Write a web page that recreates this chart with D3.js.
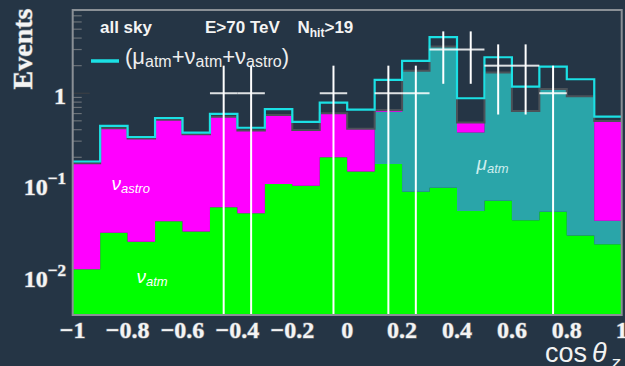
<!DOCTYPE html>
<html>
<head>
<meta charset="utf-8">
<script src="https://cdn.jsdelivr.net/npm/d3@7"></script>
<style>
  html, body { margin: 0; padding: 0; background: #253545; }
  svg { display: block; }
</style>
</head>
<body>
<svg id="chart" width="625" height="366"></svg>
<script>
// Lower edges of the cos(theta_z) bins (width 0.1)
const cosLow = [-1.0, -0.9, -0.8, -0.7, -0.6, -0.5, -0.4, -0.3, -0.2, -0.1,
                 0.0,  0.1,  0.2,  0.3,  0.4,  0.5,  0.6,  0.7,  0.8,  0.9];
const binWidth = 0.1;

// Expected events per bin for each component
const nuAtm   = [0.012, 0.030, 0.024, 0.040, 0.031, 0.057, 0.049, 0.102, 0.098, 0.200,
                 0.140, 0.169, 0.084, 0.093, 0.052, 0.067, 0.041, 0.051, 0.028, 0.0225];
const muAtm   = [0, 0, 0, 0, 0, 0, 0, 0, 0, 0,
                 0, 0.461, 1.667, 3.134, 0.320, 1.612, 0.589, 1.049, 0.890, 0.018];
const nuAstro = [0.160, 0.385, 0.296, 0.475, 0.325, 0.498, 0.344, 0.477, 0.300, 0.405,
                 0.270, 0.027, 0.014, 0.010, 0.106, 0.010, 0.010, 0.010, 0.010, 0.458];
// Total model (mu_atm + nu_atm + nu_astro) drawn as the cyan line
const totalModel = [0.180, 0.440, 0.333, 0.537, 0.371, 0.594, 0.420, 0.671, 0.486, 0.790,
                    0.662, 1.397, 2.252, 4.087, 0.882, 2.472, 1.180, 1.951, 1.422, 0.555];
// Observed events (null = empty bin)
const observed = [null, null, null, null, null, 1, 1, null, null, 1,
                  null, 1, 1, 3, 3, 2, 2, 1, null, null];

const xTicks = [-1, -0.8, -0.6, -0.4, -0.2, 0, 0.2, 0.4, 0.6, 0.8, 1];
const xTickLabels = ["\u22121", "\u22120.8", "\u22120.6", "\u22120.4", "\u22120.2", "0", "0.2", "0.4", "0.6", "0.8", "1"];
const yMajor = [0.01, 0.1, 1];
const yMajorExp = ["\u22122", "\u22121", null];

const bg = "#253545";
const colGreen = "#00ff00", colTeal = "#2aa5a9", colMagenta = "#ff00ff", colCyan = "#1be0e4";
const serif = "'Liberation Serif', 'Times New Roman', serif";
const sans = "'Liberation Sans', Arial, Helvetica, sans-serif";

const P = { left: 72.7, right: 621.7, top: 10, bottom: 315 };
const yMin = 0.0038, yMax = 8.1;

const svg = d3.select("#chart");
svg.append("rect").attr("width", 625).attr("height", 366).attr("fill", bg);

const x = d3.scaleLinear().domain([-1, 1]).range([P.left, P.right]);
const y = d3.scaleLog().domain([yMin, yMax]).range([P.bottom, P.top]);
const yc = v => y(Math.max(v, yMin));

// ---- y-axis tick marks (drawn first so the filled stack covers them)
const tickG = svg.append("g").attr("stroke-width", 1.2);
for (let e = -3; e <= 0; e++) {
  for (let m = 1; m <= 9; m++) {
    const v = m * Math.pow(10, e);
    if (v < yMin || v > yMax) continue;
    const major = (m === 1);
    tickG.append("line")
      .attr("x1", P.left).attr("x2", P.left + (major ? 17 : 9))
      .attr("y1", y(v)).attr("y2", y(v))
      .attr("stroke", major ? "#3a3f44" : "#6a7178");
  }
}

// ---- stacked histogram
const rows = cosLow.map((c, i) => ({ c, nuAtm: nuAtm[i], muAtm: muAtm[i], nuAstro: nuAstro[i] }));
const series = d3.stack().keys(["nuAtm", "muAtm", "nuAstro"])(rows);
const fills = { nuAtm: colGreen, muAtm: colTeal, nuAstro: colMagenta };

function stepPoints(arr, getter) {
  const pts = arr.map(getter);
  const last = pts[pts.length - 1];
  pts.push(Object.assign({}, last, { x: last.x + binWidth }));
  return pts;
}

const area = d3.area().curve(d3.curveStepAfter)
  .x(p => x(p.x)).y0(p => yc(p.y0)).y1(p => yc(p.y1));

series.forEach(s => {
  const pts = stepPoints(s, d => ({ x: d.data.c, y0: d[0], y1: d[1] }));
  svg.append("path").attr("d", area(pts)).attr("fill", fills[s.key]).attr("stroke", "none");
});

const stepLine = d3.line().curve(d3.curveStepAfter).x(p => x(p.x)).y(p => yc(p.v));

// outline of the stack top
const stackTop = series[series.length - 1];
svg.append("path")
  .attr("d", stepLine(stepPoints(stackTop, d => ({ x: d.data.c, v: d[1] }))))
  .attr("fill", "none").attr("stroke", "#4b5259").attr("stroke-width", 2);

// total model line
svg.append("path")
  .attr("d", stepLine(stepPoints(totalModel, (v, i) => ({ x: cosLow[i], v }))))
  .attr("fill", "none").attr("stroke", colCyan).attr("stroke-width", 2.2);

// ---- observed events with sqrt(N) error bars
const dataG = svg.append("g").attr("stroke", "#ffffff").attr("stroke-width", 2);
observed.forEach((n, i) => {
  if (n == null) return;
  const xc = x(cosLow[i] + binWidth / 2);
  const err = Math.sqrt(n);
  dataG.append("line")
    .attr("x1", x(cosLow[i])).attr("x2", x(cosLow[i] + binWidth))
    .attr("y1", y(n)).attr("y2", y(n))
    .attr("stroke-opacity", 0.85);
  dataG.append("line")
    .attr("x1", xc).attr("x2", xc)
    .attr("y1", yc(n + err)).attr("y2", yc(n - err));
});

// ---- frame
svg.append("rect")
  .attr("x", P.left).attr("y", P.top)
  .attr("width", P.right - P.left).attr("height", P.bottom - P.top)
  .attr("fill", "none").attr("stroke", "#8a9096").attr("stroke-width", 2);

// ---- tick labels
const lblStyle = sel => sel
  .attr("font-family", serif).attr("font-weight", "bold")
  .attr("fill", "#f4f4f4").attr("stroke", "#7a8088").attr("stroke-width", 1.2)
  .attr("paint-order", "stroke");

xTicks.forEach((t, i) => {
  svg.append("text").call(lblStyle)
    .attr("x", x(t)).attr("y", 338)
    .attr("text-anchor", "middle").attr("font-size", 24)
    .text(xTickLabels[i]);
});

yMajor.forEach((v, i) => {
  const t = svg.append("text").call(lblStyle)
    .attr("x", 66).attr("y", y(v) + 10.5)
    .attr("text-anchor", "end").attr("font-size", 24);
  if (yMajorExp[i] == null) {
    t.text("1");
  } else {
    t.append("tspan").text("10");
    t.append("tspan").attr("font-size", 17).attr("dy", -11).text(yMajorExp[i]);
  }
});

// ---- axis titles
svg.append("text").call(lblStyle)
  .attr("transform", "translate(31.5,49) rotate(-90)")
  .attr("text-anchor", "middle").attr("font-size", 28)
  .text("Events");

const xt = svg.append("g").attr("font-family", sans).attr("fill", "#f2f2f2");
xt.append("text").attr("x", 545).attr("y", 361.5).attr("font-size", 27).text("cos");
xt.append("text").attr("x", 592).attr("y", 361.5).attr("font-size", 27).attr("font-style", "italic").text("\u03b8");
xt.append("text").attr("x", 611).attr("y", 369).attr("font-size", 19).attr("font-style", "italic").text("z");

// ---- header text
const hdr = svg.append("g").attr("font-family", sans).attr("font-weight", "bold").attr("fill", "#f4f4f4");
hdr.append("text").attr("x", 100).attr("y", 33).attr("font-size", 17).text("all sky");
hdr.append("text").attr("x", 205).attr("y", 33).attr("font-size", 17).text("E>70 TeV");
const nh = hdr.append("text").attr("x", 297.5).attr("y", 33).attr("font-size", 17);
nh.append("tspan").text("N");
nh.append("tspan").attr("font-size", 12).attr("dy", 4).text("hit");
nh.append("tspan").attr("dy", -4).text(">19");

// ---- legend
svg.append("line").attr("x1", 91).attr("x2", 119).attr("y1", 61).attr("y2", 61)
  .attr("stroke", colCyan).attr("stroke-width", 3.5);
const lg = svg.append("text").attr("x", 125).attr("y", 64)
  .attr("font-family", sans).attr("font-size", 22).attr("fill", "#eeeeee");
lg.append("tspan").text("(\u03bc");
lg.append("tspan").attr("font-size", 16).attr("dy", 3).text("atm");
lg.append("tspan").attr("dy", -3).text("+\u03bd");
lg.append("tspan").attr("font-size", 16).attr("dy", 3).text("atm");
lg.append("tspan").attr("dy", -3).text("+\u03bd");
lg.append("tspan").attr("font-size", 16).attr("dy", 3).text("astro");
lg.append("tspan").attr("dy", -3).text(")");

// ---- component labels
function compLabel(xp, yp, sym, sub, fill) {
  const t = svg.append("text").attr("x", xp).attr("y", yp)
    .attr("font-family", sans).attr("font-style", "italic").attr("fill", fill).attr("font-size", 19);
  t.append("tspan").text(sym);
  t.append("tspan").attr("font-size", 13).attr("dy", 3).text(sub);
}
compLabel(111.5, 190, "\u03bd", "astro", "#ffffff");
compLabel(136.5, 282.5, "\u03bd", "atm", "#ffffff");
compLabel(476.5, 170, "\u03bc", "atm", "#cfeeee");
</script>
</body>
</html>
